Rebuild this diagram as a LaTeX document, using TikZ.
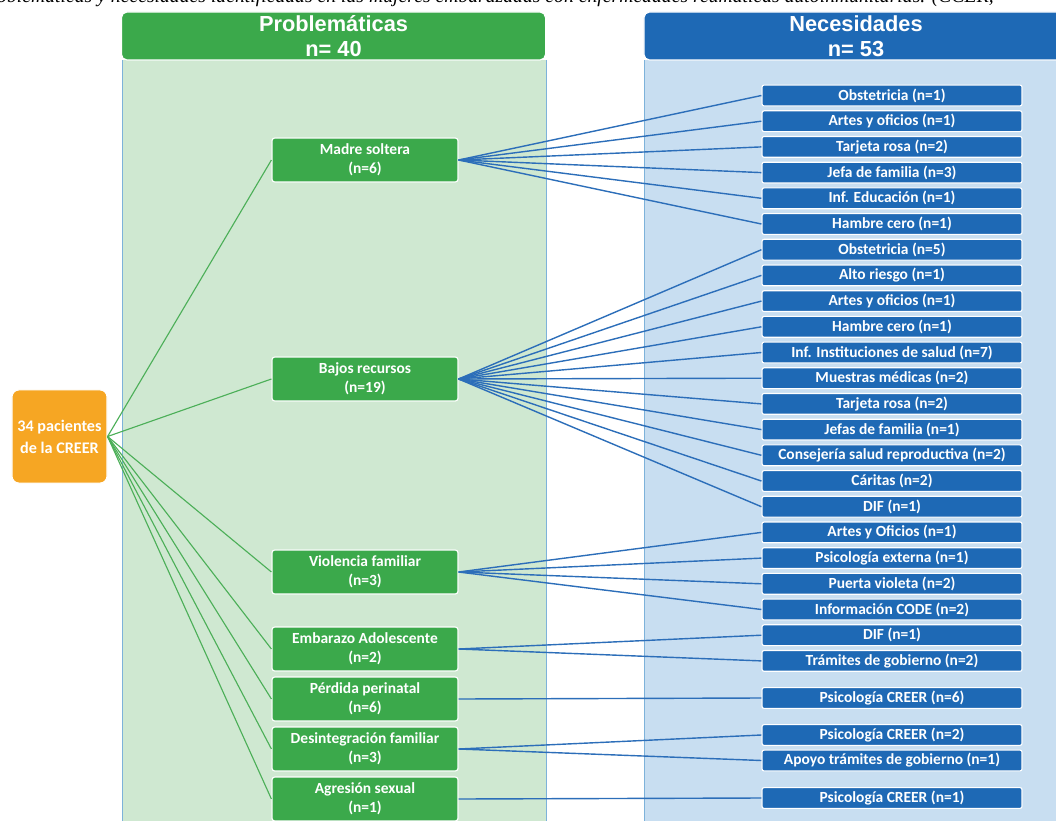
\documentclass[tikz,border=0pt]{standalone}
\usepackage{fontspec}
\setmainfont{Carlito}
\newfontfamily\headfont{Liberation Sans}
\newfontfamily\captionfont{Liberation Serif}
\usepackage{xcolor}
\usepackage{tikz}
\definecolor{creerorange}{HTML}{F6A623}
\definecolor{probgreen}{HTML}{3BA94B}
\definecolor{probpanel}{HTML}{CFE8D1}
\definecolor{needblue}{HTML}{1E69B5}
\definecolor{needpanel}{HTML}{C8DEF1}
\definecolor{panelline}{HTML}{7DB2DA}
\definecolor{greenline}{HTML}{4CAF58}
\definecolor{blueline}{HTML}{2C6EB9}
\tikzset{
  headbox/.style={draw=white, line width=0.8pt, rounded corners=4pt, minimum width=10.6cm, minimum height=1.2cm,
    align=center, text=white, inner sep=0pt, font=\headfont\bfseries\fontsize{15.5}{17.5}\selectfont},
  probbox/.style={draw=white, line width=0.8pt, fill=probgreen, rounded corners=2pt, minimum width=4.65cm,
    minimum height=1.1cm, align=center, text=white, inner sep=0pt, font=\bfseries\fontsize{11}{13.5}\selectfont},
  needbox/.style={draw=white, line width=0.8pt, fill=needblue, rounded corners=1.5pt, minimum width=6.5cm,
    minimum height=0.52cm, inner sep=0pt, text=white, font=\bfseries\fontsize{11}{12}\selectfont},
  gline/.style={greenline, line width=0.8pt},
  bline/.style={blueline, line width=1pt},
}
\begin{document}
\begin{tikzpicture}[x=0.025cm, y=-0.025cm]
    \useasboundingbox (0,0) rectangle (1056,820);
    % Caption line, cut at the top
    \node[anchor=base west, inner sep=0pt, font=\captionfont\itshape\fontsize{14}{14}\selectfont] (caption) at (-22,3)
        {Problemáticas y necesidades identificadas en las mujeres embarazadas con enfermedades reumáticas autoinmunitarias. (CCER,};
    % Panels
    \fill[probpanel] (122,60) rectangle (546,830);
    \draw[panelline, line width=0.6pt] (122,830) -- (122,60) (546,60) -- (546,830);
    \fill[needpanel] (644,60) rectangle (1068,830);
    \draw[panelline, line width=0.6pt] (644,830) -- (644,60);
    \node[headbox, fill=probgreen] (probhead) at (333.5,36) {Problemáticas\\n= 40};
    \node[headbox, fill=needblue] (needhead) at (856,36) {Necesidades\\n= 53};
    % Patients
    \node[draw=white, line width=0.8pt, fill=creerorange, rounded corners=5pt, minimum width=2.375cm, minimum height=2.33cm,
        align=center, text=white, inner sep=0pt, font=\bfseries\fontsize{11.5}{15.5}\selectfont] (creer) at (59.5,436.5) {34 pacientes\\de la CREER};
    % Problemáticas
    \node[probbox] (madre) at (365,160) {Madre soltera\\(n=6)};
    \node[probbox] (bajos) at (365,379) {Bajos recursos\\(n=19)};
    \node[probbox] (violencia) at (365,572) {Violencia familiar\\(n=3)};
    \node[probbox] (embarazo) at (365,649) {Embarazo Adolescente\\(n=2)};
    \node[probbox] (perdida) at (365,699) {Pérdida perinatal\\(n=6)};
    \node[probbox] (desint) at (365,749) {Desintegración familiar\\(n=3)};
    \node[probbox] (agresion) at (365,799) {Agresión sexual\\(n=1)};
    % Necesidades
    \node[needbox] (n1) at (892,95.5) {Obstetricia (n=1)};
    \node[needbox] (n2) at (892,121.2) {Artes y oficios (n=1)};
    \node[needbox] (n3) at (892,146.9) {Tarjeta rosa (n=2)};
    \node[needbox] (n4) at (892,172.6) {Jefa de familia (n=3)};
    \node[needbox] (n5) at (892,198.3) {Inf. Educación (n=1)};
    \node[needbox] (n6) at (892,224) {Hambre cero (n=1)};
    \node[needbox] (n7) at (892,249.7) {Obstetricia (n=5)};
    \node[needbox] (n8) at (892,275.4) {Alto riesgo (n=1)};
    \node[needbox] (n9) at (892,301.1) {Artes y oficios (n=1)};
    \node[needbox] (n10) at (892,326.8) {Hambre cero (n=1)};
    \node[needbox] (n11) at (892,352.5) {Inf. Instituciones de salud (n=7)};
    \node[needbox] (n12) at (892,378.2) {Muestras médicas (n=2)};
    \node[needbox] (n13) at (892,403.9) {Tarjeta rosa (n=2)};
    \node[needbox] (n14) at (892,429.6) {Jefas de familia (n=1)};
    \node[needbox] (n15) at (892,455.3) {Consejería salud reproductiva (n=2)};
    \node[needbox] (n16) at (892,481) {Cáritas (n=2)};
    \node[needbox] (n17) at (892,506.7) {DIF (n=1)};
    \node[needbox] (n18) at (892,532.4) {Artes y Oficios (n=1)};
    \node[needbox] (n19) at (892,558.1) {Psicología externa (n=1)};
    \node[needbox] (n20) at (892,583.8) {Puerta violeta (n=2)};
    \node[needbox] (n21) at (892,609.5) {Información CODE (n=2)};
    \node[needbox] (n22) at (892,635.2) {DIF (n=1)};
    \node[needbox] (n23) at (892,660.9) {Trámites de gobierno (n=2)};
    \node[needbox] (n24) at (892,698) {Psicología CREER (n=6)};
    \node[needbox] (n25) at (892,735) {Psicología CREER (n=2)};
    \node[needbox] (n26) at (892,760.5) {Apoyo trámites de gobierno (n=1)};
    \node[needbox] (n27) at (892,798) {Psicología CREER (n=1)};
    % Connectors
    \foreach \p in {madre, bajos, violencia, embarazo, perdida, desint, agresion}
        \draw[gline] (creer.east) -- (\p.west);
    \foreach \i in {1,...,6} \draw[bline] (madre.east) -- (n\i.west);
    \foreach \i in {7,...,17} \draw[bline] (bajos.east) -- (n\i.west);
    \foreach \i in {18,...,21} \draw[bline] (violencia.east) -- (n\i.west);
    \foreach \i in {22,23} \draw[bline] (embarazo.east) -- (n\i.west);
    \draw[bline] (perdida.east) -- (n24.west);
    \foreach \i in {25,26} \draw[bline] (desint.east) -- (n\i.west);
    \draw[bline] (agresion.east) -- (n27.west);
\end{tikzpicture}
\end{document}
